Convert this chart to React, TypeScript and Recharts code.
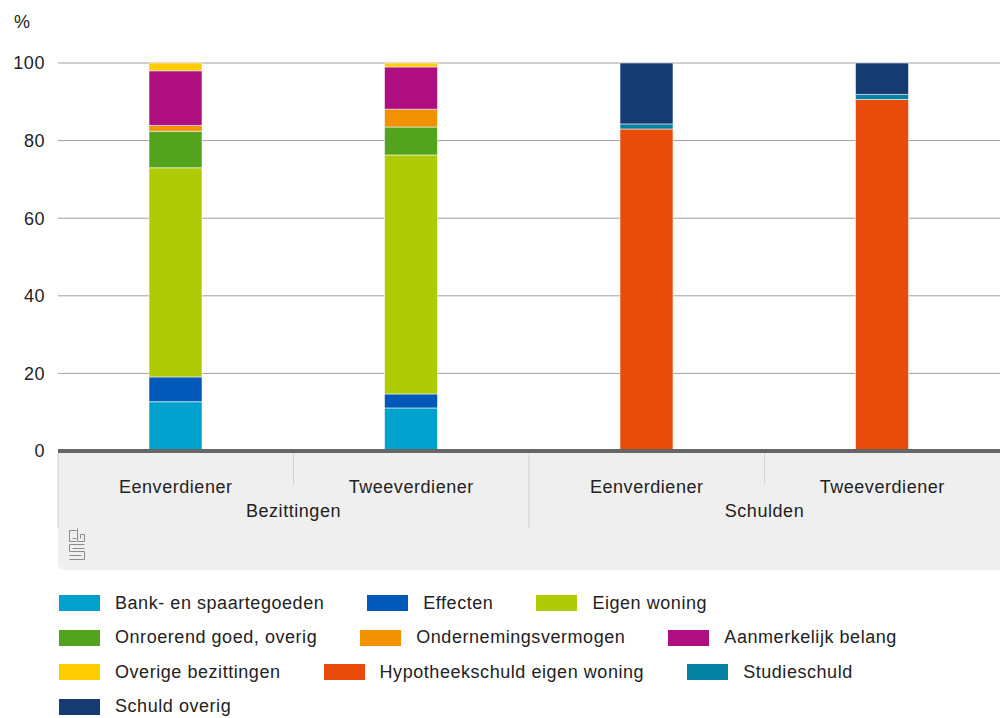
import { BarChart, Bar, XAxis, YAxis, CartesianGrid, Legend } from 'recharts';

const categories = ['Eenverdiener', 'Tweeverdiener', 'Eenverdiener', 'Tweeverdiener'];
const groups = ['Bezittingen', 'Bezittingen', 'Schulden', 'Schulden'];
const yTicks = [0, 20, 40, 60, 80, 100];

// shares in % per bar; null where a series does not belong to that group
const bankSpaar = [12.7, 11.1, null, null];
const effecten = [6.4, 3.6, null, null];
const eigenWoning = [53.9, 61.6, null, null];
const onroerendOverig = [9.4, 7.2, null, null];
const ondernemingsVermogen = [1.5, 4.6, null, null];
const aanmerkelijkBelang = [14.1, 10.9, null, null];
const overigeBezittingen = [2.0, 1.0, null, null];
const hypotheekschuld = [null, null, 83.0, 90.6];
const studieschuld = [null, null, 1.3, 1.3];
const schuldOverig = [null, null, 15.7, 8.1];

const SERIES = [
  { key: 'bank', name: 'Bank- en spaartegoeden', color: '#00a1cd', values: bankSpaar },
  { key: 'effecten', name: 'Effecten', color: '#0058b8', values: effecten },
  { key: 'woning', name: 'Eigen woning', color: '#afcb05', values: eigenWoning },
  { key: 'onroerend', name: 'Onroerend goed, overig', color: '#53a31d', values: onroerendOverig },
  { key: 'onderneming', name: 'Ondernemingsvermogen', color: '#f39200', values: ondernemingsVermogen },
  { key: 'aanmerkelijk', name: 'Aanmerkelijk belang', color: '#af0e80', values: aanmerkelijkBelang },
  { key: 'overig', name: 'Overige bezittingen', color: '#ffcc00', values: overigeBezittingen },
  { key: 'hypotheek', name: 'Hypotheekschuld eigen woning', color: '#e94c0a', values: hypotheekschuld },
  { key: 'studie', name: 'Studieschuld', color: '#0581a2', values: studieschuld },
  { key: 'schuldOverig', name: 'Schuld overig', color: '#163a72', values: schuldOverig },
];

const chartData = categories.map((name, i) => {
  const row: Record<string, string | number> = { name, group: groups[i] };
  SERIES.forEach((s) => {
    const v = s.values[i];
    if (v != null) row[s.key] = v;
  });
  return row;
});

const FONT = '"Liberation Sans", Arial, sans-serif';
const SEP = '#d4d4d4';

function CategoryTick({ x, y, payload, index }: any) {
  const half = payload?.offset || 117.75;
  return (
    <g>
      {index === 0 && <line x1={x - half} x2={x - half} y1={y + 2} y2={y + 77} stroke={SEP} />}
      {index < 3 && (
        <line x1={x + half} x2={x + half} y1={y + 2} y2={index === 1 ? y + 77 : y + 34} stroke={SEP} />
      )}
      <text x={x} y={y + 42} textAnchor="middle" fontSize={18} fill="#222">
        {payload.value}
      </text>
    </g>
  );
}

function GroupTick({ x, y, payload, index }: any) {
  if (index % 2 !== 0) return <g />;
  const half = payload?.offset || 117.75;
  return (
    <text x={x + half} y={y + 21} textAnchor="middle" fontSize={18} fill="#222">
      {payload.value}
    </text>
  );
}

function renderLegend() {
  const rows: (typeof SERIES)[] = [];
  for (let i = 0; i < SERIES.length; i += 3) rows.push(SERIES.slice(i, i + 3));
  return (
    <div style={{ height: 148, paddingTop: 16, boxSizing: 'border-box', paddingLeft: 59 }}>
      {rows.map((row, r) => (
        <div key={r} style={{ display: 'flex', alignItems: 'center', height: 34.5 }}>
          {row.map((s) => (
            <div key={s.key} style={{ display: 'flex', alignItems: 'center', marginRight: 43 }}>
              <span style={{ width: 41, height: 16, background: s.color, marginRight: 15, display: 'inline-block' }} />
              <span style={{ fontSize: 18, color: '#222', fontFamily: FONT }}>{s.name}</span>
            </div>
          ))}
        </div>
      ))}
    </div>
  );
}

export default function App() {
  return (
    <div
      style={{
        position: 'absolute',
        left: 0,
        top: 0,
        width: 1000,
        height: 718,
        fontFamily: FONT,
        letterSpacing: '0.55px',
        background: '#fff',
      }}
    >
      <span style={{ position: 'absolute', left: 14, top: 12, fontSize: 18, color: '#222' }}>%</span>
      <div
        style={{
          position: 'absolute',
          left: 58,
          top: 452,
          width: 942,
          height: 118,
          background: '#efefef',
          borderBottomLeftRadius: 6,
        }}
      >
        <svg width={18} height={34} style={{ position: 'absolute', left: 10, top: 75 }}>
          <g fill="none" stroke="#8c8c8c" strokeWidth={1}>
            <path d="M1.5 14.5 V3.5 H8.5 M4.5 11.5 H8.5 M1.5 14.5 H8.5" />
            <path d="M9.5 1.5 V14.5 H16.5 V7.5 H12.5 V11.5" />
            <path d="M16.5 17.5 H1.5 V24.5 H16.5 V32.5 H1.5 M4.5 21.5 H16.5 M1.5 28.5 H13.5" />
          </g>
        </svg>
      </div>
      <BarChart
        width={1000}
        height={718}
        data={chartData}
        margin={{ top: 63, right: 0, left: 0, bottom: 0 }}
        barSize={53}
      >
        <CartesianGrid vertical={false} stroke="#a0a0a0" />
        <XAxis
          xAxisId="cat"
          dataKey="name"
          height={45}
          tickSize={0}
          tickMargin={0}
          tickLine={false}
          axisLine={{ stroke: '#666', strokeWidth: 4 }}
          tick={<CategoryTick />}
          interval={0}
        />
        <XAxis
          xAxisId="grp"
          dataKey="group"
          height={74}
          tickSize={0}
          tickMargin={0}
          tickLine={false}
          axisLine={false}
          tick={<GroupTick />}
          interval={0}
        />
        <YAxis
          domain={[0, 100]}
          ticks={yTicks}
          width={58}
          tickSize={0}
          tickMargin={13}
          tickLine={false}
          axisLine={false}
          tick={{ fontSize: 18, fill: '#222' }}
        />
        <Legend verticalAlign="bottom" align="left" content={renderLegend} />
        {SERIES.map((s) => (
          <Bar
            key={s.key}
            xAxisId="cat"
            dataKey={s.key}
            name={s.name}
            stackId="a"
            fill={s.color}
            stroke="rgba(255,255,255,0.55)"
            strokeWidth={1}
            isAnimationActive={false}
          />
        ))}
      </BarChart>
    </div>
  );
}
